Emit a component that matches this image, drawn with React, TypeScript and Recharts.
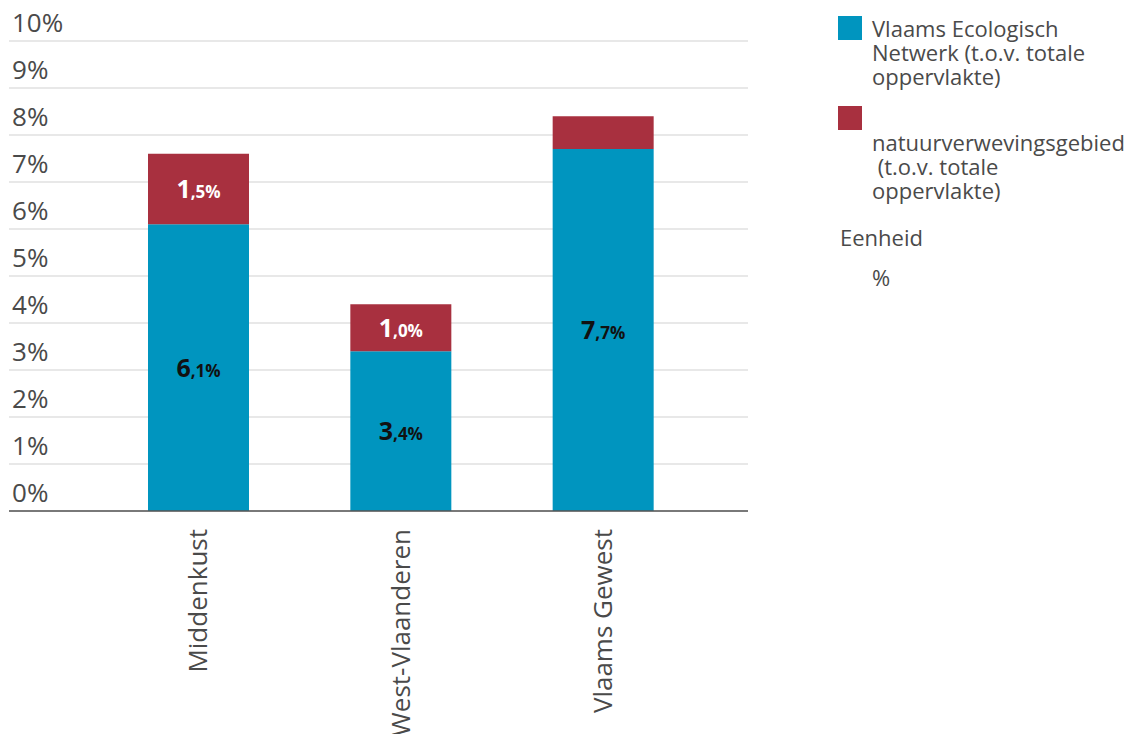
import { BarChart, Bar, XAxis, YAxis, CartesianGrid, LabelList } from "recharts";

const categories = ["Middenkust", "West-Vlaanderen", "Vlaams Gewest"];
const vlaamsEcologischNetwerk = [6.1, 3.4, 7.7];
const natuurverwevingsgebied = [1.5, 1.0, 0.7];
const yTicks = [0, 1, 2, 3, 4, 5, 6, 7, 8, 9, 10];

const BLUE = "#0095bf";
const RED = "#a8303f";
const FONT = "'Open Sans', 'Noto Sans', sans-serif";
const INK = "#4a4a4a";

const data = categories.map((name, i) => ({
  name,
  ven: vlaamsEcologischNetwerk[i],
  nvg: natuurverwevingsgebied[i],
}));

// "6,1%" -> big integer part, small ",1%"
const fmt = (v: number) => {
  const [int, dec] = v.toFixed(1).split(".");
  return { int, rest: `,${dec}%` };
};

const makeLabel = (color: string) => (props: any) => {
  const { x, y, width, height, value } = props;
  if (height < 40) return null;
  const { int, rest } = fmt(Number(value));
  return (
    <text
      x={x + width / 2}
      y={y + height / 2 + 9}
      textAnchor="middle"
      fill={color}
      fontFamily={FONT}
      fontWeight={700}
    >
      <tspan fontSize={25}>{int}</tspan>
      <tspan fontSize={17}>{rest}</tspan>
    </text>
  );
};

const YTick = ({ y, payload }: any) => (
  <text x={4} y={y - 9} fill={INK} fontSize={26} fontFamily={FONT}>
    {payload.value}%
  </text>
);

const XTick = ({ x, y, payload }: any) => (
  <text
    transform={`translate(${x + 9},${y + 16}) rotate(-90)`}
    textAnchor="end"
    fill={INK}
    fontSize={26}
    fontFamily={FONT}
  >
    {payload.value}
  </text>
);

const swatch = (c: string) => (
  <div style={{ width: 24, height: 24, background: c }} />
);

const LegendBox = () => (
  <div
    style={{
      position: "absolute",
      left: 830,
      top: 8,
      width: 300,
      fontFamily: FONT,
      fontSize: 22,
      lineHeight: "24px",
      color: INK,
    }}
  >
    <div style={{ position: "relative" }}>
      <div style={{ position: "absolute", left: 0, top: 0 }}>{swatch(BLUE)}</div>
      <div style={{ marginLeft: 34 }}>
        Vlaams Ecologisch
        <br />
        Netwerk (t.o.v. totale
        <br />
        oppervlakte)
      </div>
    </div>
    <div style={{ marginTop: 18 }}>{swatch(RED)}</div>
    <div style={{ marginLeft: 34, whiteSpace: "pre" }}>
      {"natuurverwevingsgebied\n (t.o.v. totale\noppervlakte)"}
    </div>
    <div style={{ marginTop: 23, marginLeft: 2 }}>Eenheid</div>
    <div style={{ marginTop: 16, marginLeft: 34 }}>%</div>
  </div>
);

export default function App() {
  return (
    <div style={{ position: "relative", width: 1131, height: 726 }}>
      <BarChart
        width={1131}
        height={726}
        data={data}
        margin={{ top: 33, right: 391, left: 0, bottom: 0 }}
      >
        <CartesianGrid vertical={false} stroke="#e8e8e8" strokeWidth={2} />
        <XAxis
          dataKey="name"
          height={223}
          padding={{ left: 88, right: 44 }}
          tickLine={false}
          tickSize={0}
          axisLine={{ stroke: "#555", strokeWidth: 1.5 }}
          tick={<XTick />}
          interval={0}
        />
        <YAxis
          width={1}
          domain={[0, 10]}
          ticks={yTicks}
          interval={0}
          axisLine={false}
          tickLine={false}
          tick={<YTick />}
        />
        <Bar dataKey="ven" stackId="a" fill={BLUE} barSize={101} isAnimationActive={false}>
          <LabelList dataKey="ven" content={makeLabel("#111")} />
        </Bar>
        <Bar dataKey="nvg" stackId="a" fill={RED} barSize={101} isAnimationActive={false}>
          <LabelList dataKey="nvg" content={makeLabel("#fff")} />
        </Bar>
      </BarChart>
      <LegendBox />
    </div>
  );
}
